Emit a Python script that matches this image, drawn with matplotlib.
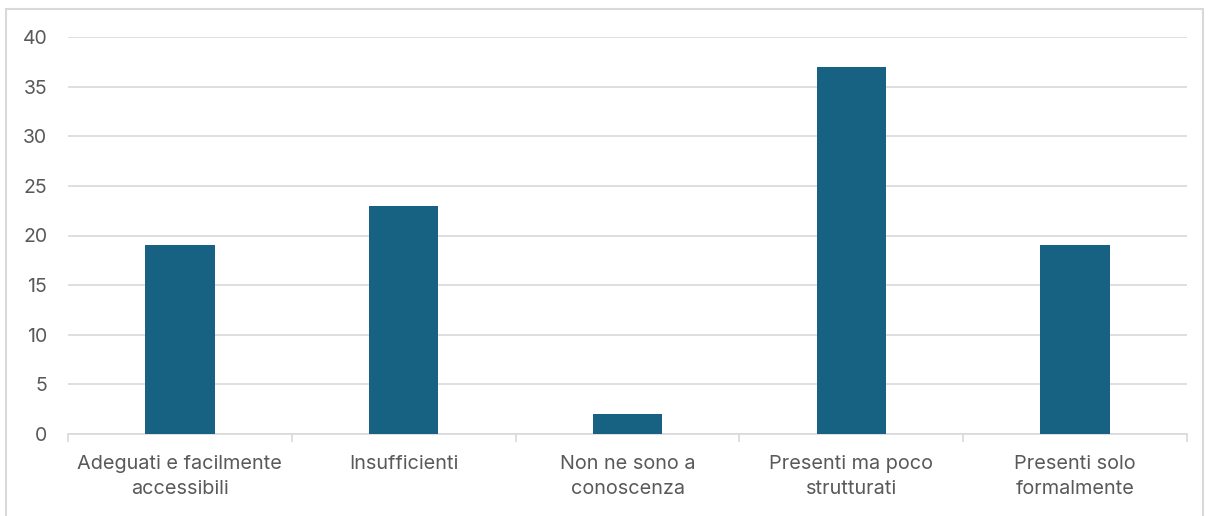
import matplotlib.pyplot as plt
from matplotlib.patches import Rectangle

categories = ["Adeguati e facilmente\naccessibili", "Insufficienti",
              "Non ne sono a\nconoscenza", "Presenti ma poco\nstrutturati",
              "Presenti solo\nformalmente"]
values = [19, 23, 2, 37, 19]
yticks = [0, 5, 10, 15, 20, 25, 30, 35, 40]

plt.rcParams['font.family'] = ['Inter', 'DejaVu Sans']

fig = plt.figure(figsize=(12.10, 5.16), dpi=100)
# light frame around the chart
fig.patches.append(Rectangle((6 / 1210, -0.1), 1197 / 1210, 1 - 8.5 / 516 + 0.1,
                             transform=fig.transFigure, fill=False,
                             edgecolor='#d9d9d9', linewidth=1.5))

ax = fig.add_axes([68 / 1210, 1 - 434 / 516, 1119 / 1210, 397 / 516])
x = list(range(len(categories)))
ax.bar(x, values, width=0.31, color='#176182', zorder=3)

ax.set_xlim(-0.5, len(categories) - 0.5)
ax.set_ylim(0, 40)
ax.set_yticks(yticks)
ax.yaxis.grid(True, color='#d9d9d9', linewidth=1.2)
ax.set_axisbelow(True)

for s in ['top', 'right', 'left']:
    ax.spines[s].set_visible(False)
ax.spines['bottom'].set_color('#d9d9d9')
ax.spines['bottom'].set_linewidth(1.2)

ax.tick_params(axis='y', length=0, pad=15, labelsize=14, labelcolor='#595959')
ax.set_xticks(x)
ax.set_xticklabels(categories)
ax.tick_params(axis='x', length=0, pad=15, labelsize=14.3, labelcolor='#595959')
for lbl in ax.get_xticklabels():
    lbl.set_linespacing(1.5)

# category boundary tick marks
ax.set_xticks([i - 0.5 for i in range(len(categories) + 1)], minor=True)
ax.tick_params(axis='x', which='minor', length=6, color='#d9d9d9', width=1.2)

fig.savefig('out.png', dpi=100)
